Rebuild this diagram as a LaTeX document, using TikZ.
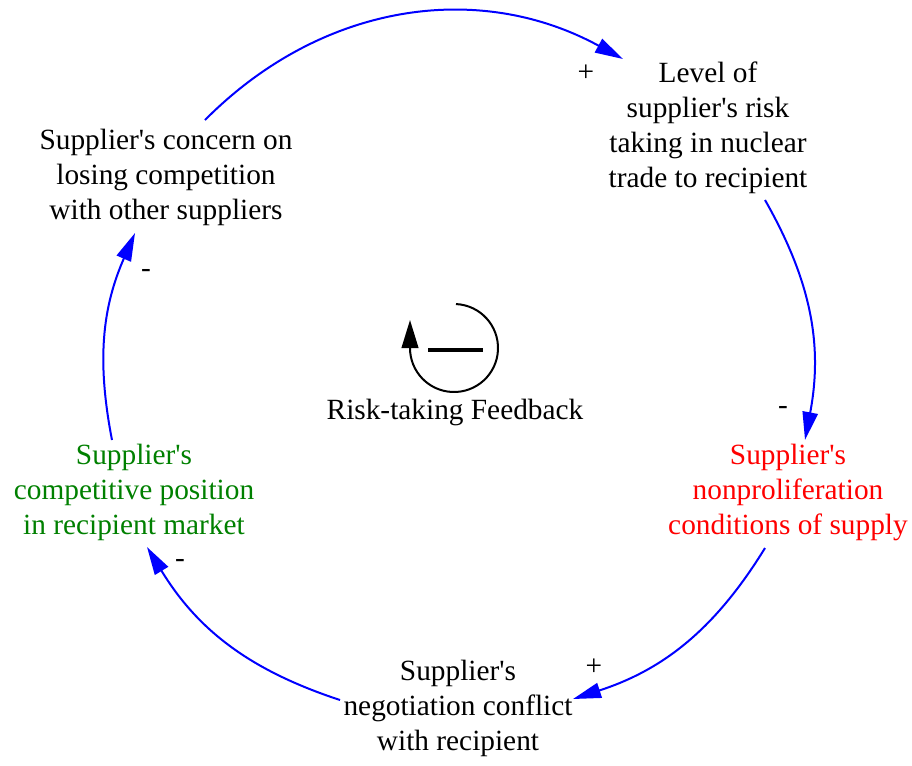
\documentclass[tikz,border=0pt]{standalone}
\usepackage{fontspec}
\setmainfont{Liberation Serif}[Ligatures=TeXOff]
\usetikzlibrary{arrows.meta}
\definecolor{posgreen}{RGB}{0,128,0}
\begin{document}
\begin{tikzpicture}[x=0.75pt,y=0.75pt,
  var/.style={align=center,inner sep=0pt,font=\fontsize{22}{26.25}\selectfont},
  sign/.style={inner sep=0pt,font=\fontsize{22}{26.25}\selectfont},
  link/.style={draw=blue,line width=1.5pt,
    -{Triangle[length=21pt,width=11.5pt]}},
  loopline/.style={line width=1.5pt,-{Triangle[length=21pt,width=12.5pt]}}]
\useasboundingbox (0,0) rectangle (912,-765);

% variables of the loop
\node[var] (concern) at (166,-177) {Supplier's concern on\\losing competition\\with other suppliers};
\node[var] (risk) at (708,-128) {Level of\\supplier's risk\\taking in nuclear\\trade to recipient};
\node[var,text=red] (conditions) at (788,-492) {Supplier's\\nonproliferation\\conditions of supply};
\node[var] (conflict) at (458,-708) {Supplier's\\negotiation conflict\\with recipient};
\node[var,text=posgreen] (position) at (134,-492) {Supplier's\\competitive position\\in recipient market};

% connector end points on the node borders
\coordinate (concern-out) at (205,-120);
\coordinate (risk-in) at (623,-59);
\coordinate (risk-out) at (765,-200);
\coordinate (conditions-in) at (805,-440);
\coordinate (conditions-out) at (765,-548);
\coordinate (conflict-in) at (573,-699);
\coordinate (conflict-out) at (340,-700);
\coordinate (position-in) at (147,-547);
\coordinate (position-out) at (112,-440);
\coordinate (concern-in) at (135,-233);

% causal links
\draw[link] (concern-out) to[bend left=36.9] (risk-in);
\draw[link] (risk-out) to[bend left=20.2] (conditions-in);
\draw[link] (conditions-out) to[bend left=20.2] (conflict-in);
\draw[link] (conflict-out) to[bend left=20.2] (position-in);
\draw[link] (position-out) to[bend left=17.3] (concern-in);

% polarities
\node[sign] (s1) at (586,-73) {+};
\node[sign] (s2) at (783,-410) {-};
\node[sign] (s3) at (594,-667) {+};
\node[sign] (s4) at (180,-563) {-};
\node[sign] (s5) at (146,-273) {-};

% balancing loop marker
\coordinate (lc) at (454,-348);
\draw[loopline] ([shift={(87.4:33pt)}]lc) arc[start angle=87.4,end angle=-180,radius=33pt] -- ++(0,28);
\draw[line width=3pt] (428,-350) -- (483,-350);
\node[var] (looplabel) at (455,-412) {Risk-taking Feedback};
\end{tikzpicture}
\end{document}
